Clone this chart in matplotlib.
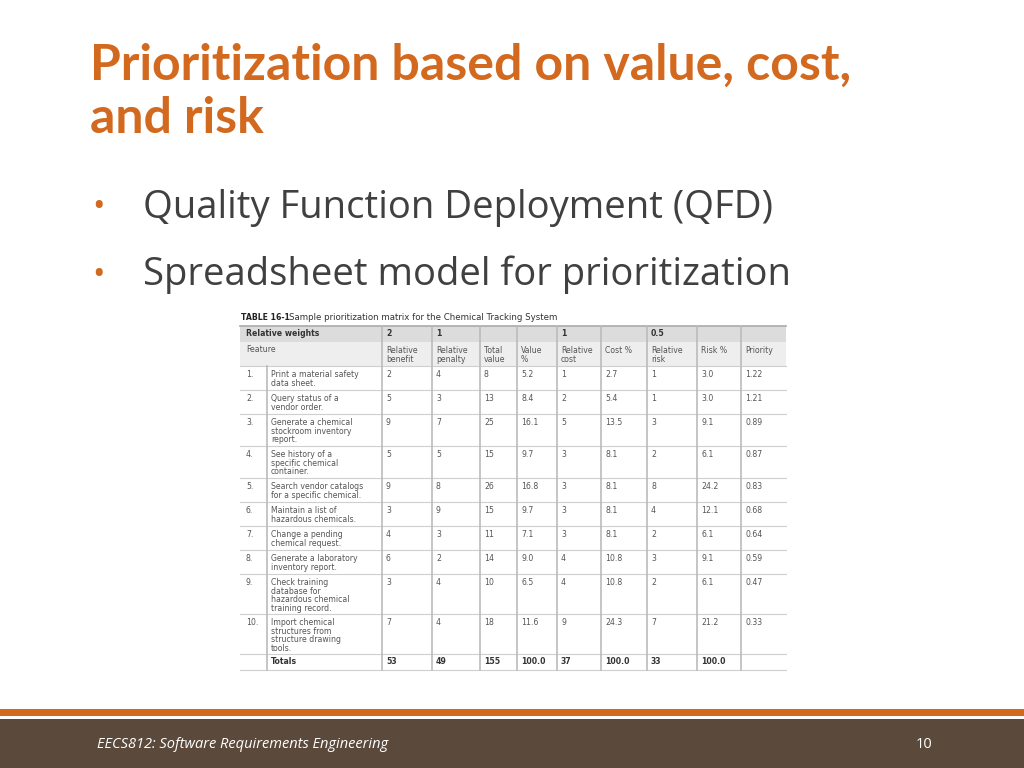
import matplotlib.pyplot as plt
from matplotlib.patches import Rectangle

# --- table data ---
weights = ["2", "1", "", "", "1", "", "0.5", "", ""]
col_heads = ["Relative\nbenefit", "Relative\npenalty", "Total\nvalue", "Value\n%", "Relative\ncost",
             "Cost %", "Relative\nrisk", "Risk %", "Priority"]
features = [
    "Print a material safety\ndata sheet.",
    "Query status of a\nvendor order.",
    "Generate a chemical\nstockroom inventory\nreport.",
    "See history of a\nspecific chemical\ncontainer.",
    "Search vendor catalogs\nfor a specific chemical.",
    "Maintain a list of\nhazardous chemicals.",
    "Change a pending\nchemical request.",
    "Generate a laboratory\ninventory report.",
    "Check training\ndatabase for\nhazardous chemical\ntraining record.",
    "Import chemical\nstructures from\nstructure drawing\ntools.",
]
benefit = [2, 5, 9, 5, 9, 3, 4, 6, 3, 7]
penalty = [4, 3, 7, 5, 8, 9, 3, 2, 4, 4]
total_value = [8, 13, 25, 15, 26, 15, 11, 14, 10, 18]
value_pct = ["5.2", "8.4", "16.1", "9.7", "16.8", "9.7", "7.1", "9.0", "6.5", "11.6"]
cost = [1, 2, 5, 3, 3, 3, 3, 4, 4, 9]
cost_pct = ["2.7", "5.4", "13.5", "8.1", "8.1", "8.1", "8.1", "10.8", "10.8", "24.3"]
risk = [1, 1, 3, 2, 8, 4, 2, 3, 2, 7]
risk_pct = ["3.0", "3.0", "9.1", "6.1", "24.2", "12.1", "6.1", "9.1", "6.1", "21.2"]
priority = ["1.22", "1.21", "0.89", "0.87", "0.83", "0.68", "0.64", "0.59", "0.47", "0.33"]
totals = ["53", "49", "155", "100.0", "37", "100.0", "33", "100.0", ""]

ORANGE = "#d2691e"
BROWN = "#5b4a3b"

fig = plt.figure(figsize=(10.24, 7.68), dpi=100)
ax = fig.add_axes([0, 0, 1, 1])
ax.set_xlim(0, 1024)
ax.set_ylim(768, 0)
ax.axis("off")

# title and bullets
ax.text(90, 92, "Prioritization based on value, cost,\nand risk", fontsize=36, fontweight="bold",
        family="Lato", color=ORANGE, va="center", linespacing=1.2)
ax.text(92, 208, "•", fontsize=24, color=ORANGE, va="center", family="Open Sans")
ax.text(143, 208, "Quality Function Deployment (QFD)", fontsize=27.5, color="#404040",
        va="center", family="Open Sans")
ax.text(92, 275, "•", fontsize=24, color=ORANGE, va="center", family="Open Sans")
ax.text(143, 275, "Spreadsheet model for prioritization", fontsize=27.5, color="#404040",
        va="center", family="Open Sans")

# table
xs = [240, 267, 382, 432, 480, 517, 557, 601, 647, 697, 741, 786]
ys = [326, 342, 366, 390, 414, 446, 478, 502, 526, 550, 574, 614, 654, 670]
fs = 5.6
tc = "#555555"
ax.text(241, 318, "TABLE 16-1", fontsize=fs, fontweight="bold", color="#222222", va="center")
ax.text(289, 318, "Sample prioritization matrix for the Chemical Tracking System", fontsize=fs + 0.6,
        color="#333333", va="center")

ax.add_patch(Rectangle((240, 326), 546, 16, color="#dcdcdc", lw=0))
ax.add_patch(Rectangle((240, 342), 546, 24, color="#eeeeee", lw=0))
for y in ys[2:]:
    ax.plot([240, 786], [y, y], color="#cfcfcf", lw=0.8)
ax.plot([240, 786], [326, 326], color="#aaaaaa", lw=1.2)
for x in xs[2:-1]:
    ax.plot([x, x], [326, 670], color="#bbbbbb", lw=1.2)
ax.plot([267, 267], [366, 670], color="#bbbbbb", lw=1.2)

ax.text(246, 334, "Relative weights", fontsize=fs, fontweight="bold", color="#333333", va="center")
ax.text(246, 350, "Feature", fontsize=fs, color=tc, va="center")
for j in range(9):
    ax.text(xs[j + 2] + 4, 334, weights[j], fontsize=fs, fontweight="bold", color="#333333", va="center")
    ax.text(xs[j + 2] + 4, 346, col_heads[j], fontsize=fs, color=tc, va="top", linespacing=0.95)

for i in range(10):
    y = ys[i + 2] + 4
    vals = [benefit[i], penalty[i], total_value[i], value_pct[i], cost[i], cost_pct[i],
            risk[i], risk_pct[i], priority[i]]
    ax.text(246, y, f"{i + 1}.", fontsize=fs, color=tc, va="top")
    ax.text(271, y, features[i], fontsize=fs, color=tc, va="top", linespacing=0.95)
    for j, v in enumerate(vals):
        ax.text(xs[j + 2] + 4, y, str(v), fontsize=fs, color=tc, va="top")

ax.text(271, 662, "Totals", fontsize=fs, fontweight="bold", color="#333333", va="center")
for j, v in enumerate(totals):
    ax.text(xs[j + 2] + 4, 662, v, fontsize=fs, fontweight="bold", color="#333333", va="center")

# footer
ax.add_patch(Rectangle((0, 709), 1024, 7, color=ORANGE, lw=0))
ax.add_patch(Rectangle((0, 719), 1024, 49, color=BROWN, lw=0))
ax.text(97, 744, "EECS812: Software Requirements Engineering", fontsize=10.5, style="italic",
        color="white", va="center", family="Open Sans")
ax.text(932, 744, "10", fontsize=10.5, color="white", va="center", ha="right", family="Open Sans")

fig.savefig("out.png", dpi=100)
